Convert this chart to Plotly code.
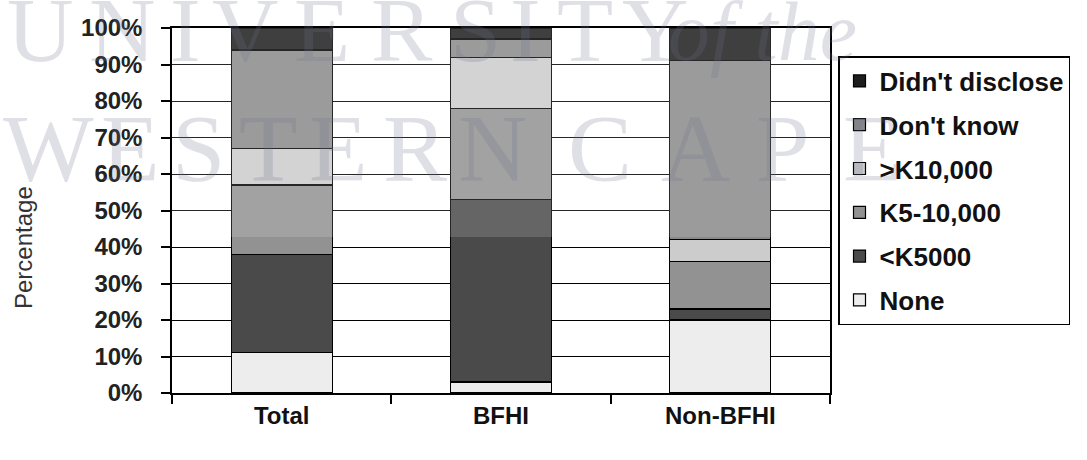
import plotly.graph_objects as go

categories = ["Total", "BFHI", "Non-BFHI"]
series_names = ["None", "<K5000", "K5-10,000", ">K10,000", "Don't know", "Didn't disclose"]
none_vals = [11, 3, 20]
k5000_vals = [27, 50, 3]
k5_10000_vals = [19, 25, 13]
k10000_vals = [10, 14, 6]
dont_know_vals = [27, 5, 49]
didnt_disclose_vals = [6, 3, 9]
y_ticks = [0, 10, 20, 30, 40, 50, 60, 70, 80, 90, 100]
y_ticklabels = [f"{v}%" for v in y_ticks]

series_values = [none_vals, k5000_vals, k5_10000_vals, k10000_vals, dont_know_vals, didnt_disclose_vals]
colors = ["#ededed", "#4a4a4a", "#929292", "#cccccc", "#8a8a8a", "#1e1e1e"]

W, H = 1087, 460
L, R, T, B = 172, 830, 28, 393


def px(x):
    return (x - L) / (R - L)


def py(y):
    return (B - y) / (B - T)


fig = go.Figure()
n = len(series_names)
for i, (name, vals, col) in enumerate(zip(series_names, series_values, colors)):
    fig.add_trace(go.Bar(
        x=categories, y=vals, name=name, legendgroup=name, legendrank=n - i,
        marker=dict(color=col, line=dict(color="black", width=1.2)),
    ))

font_family = "Liberation Sans, Arial, sans-serif"

# scan watermark letters
wm_color = "rgba(110,110,140,0.22)"
line1 = [("U", 40), ("N", 122), ("I", 185), ("V", 245), ("E", 322), ("R", 402),
         ("S", 475), ("I", 525), ("T", 585), ("Y", 655)]
line2 = [("W", 48), ("E", 130), ("S", 198), ("T", 268), ("E", 338), ("R", 415),
         ("N", 492), ("C", 600), ("A", 695), ("P", 782), ("E", 872)]
annotations = []
for ch, x in line1:
    annotations.append(dict(text=ch, x=px(x), y=py(30), xref="paper", yref="paper",
                            xanchor="center", yanchor="middle", showarrow=False,
                            font=dict(family="Liberation Serif, serif", size=92, color=wm_color)))
annotations.append(dict(text="<i>of the</i>", x=px(762), y=py(32), xref="paper", yref="paper",
                        xanchor="center", yanchor="middle", showarrow=False,
                        font=dict(family="Liberation Serif, serif", size=84, color=wm_color)))
for ch, x in line2:
    annotations.append(dict(text=ch, x=px(x), y=py(148), xref="paper", yref="paper",
                            xanchor="center", yanchor="middle", showarrow=False,
                            font=dict(family="Liberation Serif, serif", size=96, color=wm_color)))

annotations.append(dict(text="Percentage", x=px(23), y=py(248), xref="paper", yref="paper",
                        xanchor="center", yanchor="middle", textangle=-90, showarrow=False,
                        font=dict(family=font_family, size=24, color="#333333")))

fig.update_layout(
    width=W, height=H,
    margin=dict(l=L, r=W - R, t=T, b=H - B, autoexpand=False),
    paper_bgcolor="white", plot_bgcolor="white",
    barmode="stack", bargap=0.54,
    showlegend=True,
    legend=dict(
        x=px(838), y=py(56), xanchor="left", yanchor="top",
        traceorder="grouped", tracegroupgap=7,
        bordercolor="black", borderwidth=1.5, bgcolor="white",
        itemwidth=30,
        font=dict(family=font_family, size=26, color="#111111", weight="bold"),
    ),
    xaxis=dict(
        showline=True, linecolor="black", linewidth=1.5, mirror=True,
        ticks="outside", ticklen=9, tickwidth=1.5, tickcolor="black",
        tickson="boundaries", showgrid=False,
        tickfont=dict(family=font_family, size=24, color="#111111", weight="bold"),
    ),
    yaxis=dict(
        range=[0, 100], tickvals=y_ticks, ticktext=y_ticklabels,
        showline=True, linecolor="black", linewidth=1.5, mirror=True,
        ticks="outside", ticklen=9, tickwidth=1.5, tickcolor="black",
        showgrid=True, gridcolor="black", gridwidth=1.3,
        ticklabelstandoff=14,
        tickfont=dict(family=font_family, size=24, color="#222222", weight="bold"),
    ),
    annotations=annotations,
    shapes=[dict(type="rect", xref="paper", yref="paper", x0=0, x1=1, y0=py(237), y1=1,
                 fillcolor="rgba(255,255,255,0.15)", line=dict(width=0), layer="above")],
)

fig.write_html("out.html")
